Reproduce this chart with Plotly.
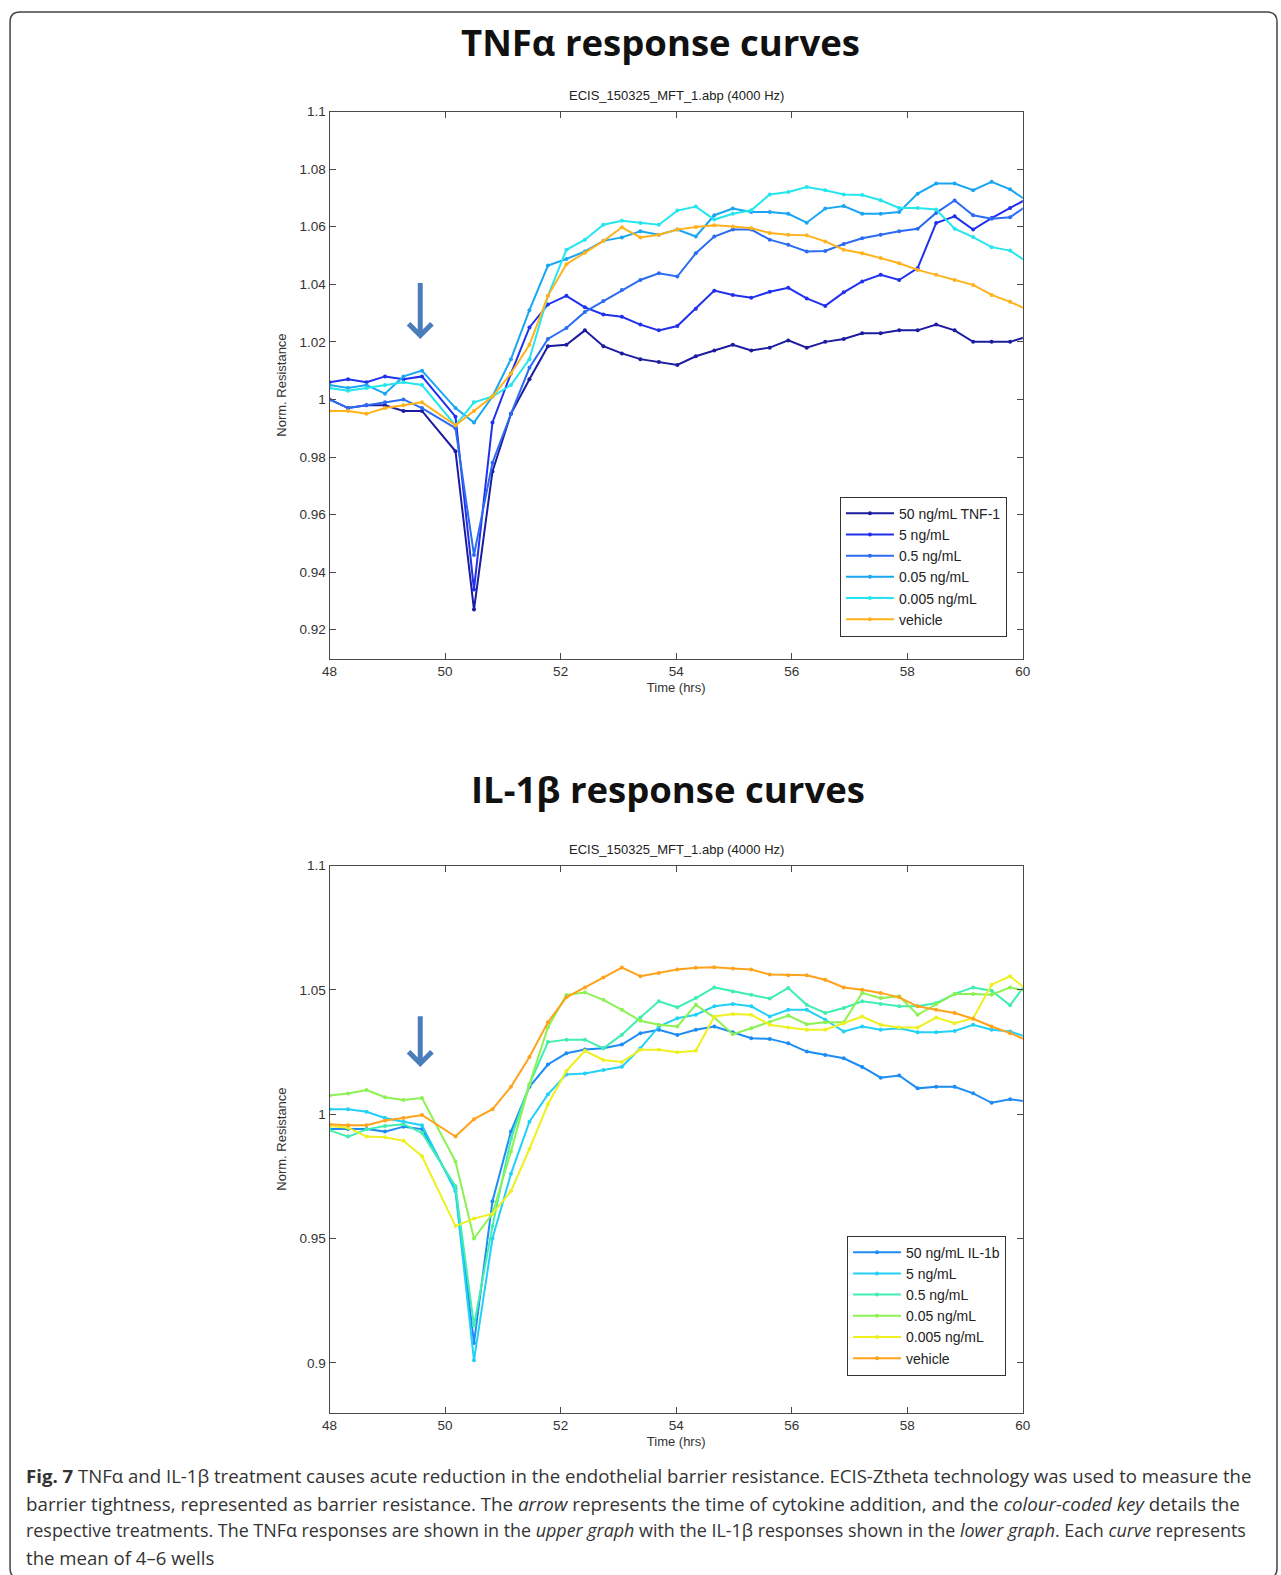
import plotly.graph_objects as go

# ---------------- data ----------------
TIME_H = [48.0, 48.32, 48.64, 48.96, 49.28, 49.6,
          50.18, 50.5, 50.82, 51.14, 51.46, 51.78, 52.10, 52.42, 52.74, 53.06,
          53.38, 53.70, 54.02, 54.34, 54.66, 54.98, 55.30, 55.62, 55.94, 56.26,
          56.58, 56.90, 57.22, 57.54, 57.86, 58.18, 58.50, 58.82, 59.14, 59.46,
          59.78, 60.10]

TNF_NAMES = ["50 ng/mL TNF-1", "5 ng/mL", "0.5 ng/mL", "0.05 ng/mL", "0.005 ng/mL", "vehicle"]
TNF_50 = [1.000, 0.997, 0.998, 0.998, 0.996, 0.996,
          0.982, 0.927, 0.975, 0.995, 1.007, 1.0185, 1.019, 1.024, 1.0185, 1.016,
          1.014, 1.013, 1.012, 1.015, 1.017, 1.019, 1.017, 1.018, 1.0205, 1.018,
          1.020, 1.021, 1.023, 1.023, 1.024, 1.024, 1.026, 1.024, 1.020, 1.020,
          1.020, 1.022]
TNF_5 = [1.006, 1.007, 1.006, 1.008, 1.007, 1.008,
         0.994, 0.934, 0.992, 1.009, 1.025, 1.033, 1.036, 1.032, 1.0295, 1.0287,
         1.026, 1.024, 1.0255, 1.0315, 1.0378, 1.0363, 1.0353, 1.0374, 1.0388, 1.0351,
         1.0325, 1.0372, 1.041, 1.0433, 1.0415, 1.0456, 1.0613, 1.0636, 1.059, 1.063,
         1.0665, 1.070]
TNF_05 = [1.000, 0.997, 0.998, 0.999, 1.000, 0.997,
          0.990, 0.946, 0.978, 0.995, 1.011, 1.021, 1.0248, 1.0304, 1.0342, 1.038,
          1.0415, 1.0438, 1.0427, 1.0508, 1.0566, 1.059, 1.059, 1.0555, 1.0537, 1.0514,
          1.0516, 1.054, 1.056, 1.0572, 1.0584, 1.0593, 1.0648, 1.0691, 1.064, 1.0628,
          1.0633, 1.0677]
TNF_005 = [1.005, 1.004, 1.005, 1.002, 1.008, 1.010,
           0.997, 0.992, 1.001, 1.014, 1.031, 1.0465, 1.0488, 1.0514, 1.0551, 1.0563,
           1.0584, 1.0572, 1.059, 1.0566, 1.064, 1.0663, 1.0651, 1.0651, 1.0645, 1.0614,
           1.0663, 1.0672, 1.0645, 1.0645, 1.0651, 1.0715, 1.075, 1.075, 1.0727, 1.0756,
           1.073, 1.0686]
TNF_0005 = [1.004, 1.003, 1.004, 1.005, 1.006, 1.005,
            0.991, 0.999, 1.001, 1.005, 1.014, 1.036, 1.052, 1.0555, 1.0607, 1.0621,
            1.0613, 1.0607, 1.0656, 1.067, 1.0625, 1.0645, 1.0657, 1.0712, 1.0721, 1.0738,
            1.0727, 1.0712, 1.071, 1.0692, 1.0665, 1.0665, 1.066, 1.0593, 1.0564, 1.0529,
            1.0517, 1.0474]
TNF_VEH = [0.996, 0.996, 0.995, 0.997, 0.998, 0.999,
           0.991, 0.996, 1.001, 1.009, 1.019, 1.036, 1.047, 1.051, 1.055, 1.0598,
           1.0563, 1.0572, 1.059, 1.0599, 1.0605, 1.0601, 1.0595, 1.0578, 1.0572, 1.057,
           1.0549, 1.052, 1.0508, 1.0491, 1.0473, 1.045, 1.0433, 1.0415, 1.0398, 1.0363,
           1.0339, 1.031]

IL_NAMES = ["50 ng/mL IL-1b", "5 ng/mL", "0.5 ng/mL", "0.05 ng/mL", "0.005 ng/mL", "vehicle"]
IL_50 = [0.994, 0.994, 0.994, 0.993, 0.995, 0.994,
         0.970, 0.908, 0.965, 0.993, 1.011, 1.020, 1.0245, 1.026, 1.0265, 1.028,
         1.0326, 1.034, 1.0319, 1.034, 1.0353, 1.033, 1.0306, 1.0303, 1.0285, 1.0252,
         1.0238, 1.0225, 1.019, 1.0147, 1.0156, 1.0104, 1.011, 1.011, 1.0084, 1.0046,
         1.006, 1.005]
IL_5 = [1.002, 1.002, 1.001, 0.9985, 0.997, 0.9956,
        0.969, 0.901, 0.950, 0.976, 0.997, 1.008, 1.016, 1.0164, 1.0178, 1.0191,
        1.0265, 1.0353, 1.0386, 1.04, 1.0434, 1.0443, 1.0434, 1.0393, 1.042, 1.042,
        1.038, 1.0333, 1.0353, 1.034, 1.0346, 1.033, 1.033, 1.0335, 1.036, 1.034,
        1.0333, 1.0308]
IL_05 = [0.9936, 0.991, 0.9939, 0.9953, 0.996, 0.9925,
         0.971, 0.915, 0.955, 0.990, 1.012, 1.029, 1.030, 1.030, 1.0265, 1.032,
         1.0389, 1.0454, 1.043, 1.0467, 1.051, 1.0494, 1.0481, 1.0465, 1.0508, 1.044,
         1.0407, 1.0427, 1.0454, 1.0443, 1.0434, 1.0434, 1.0447, 1.0484, 1.051, 1.0497,
         1.0438, 1.054]
IL_005 = [1.0075, 1.0083, 1.0097, 1.0068, 1.0057, 1.0065,
          0.981, 0.950, 0.960, 0.985, 1.012, 1.035, 1.048, 1.049, 1.046, 1.042,
          1.0376, 1.036, 1.0353, 1.044, 1.0389, 1.0322, 1.0346, 1.037, 1.0397, 1.0362,
          1.037, 1.037, 1.0488, 1.0467, 1.0474, 1.04, 1.0443, 1.0484, 1.0484, 1.0481,
          1.051, 1.0494]
IL_0005 = [0.9953, 0.9946, 0.991, 0.9907, 0.9893, 0.9831,
           0.955, 0.958, 0.960, 0.969, 0.986, 1.004, 1.0174, 1.0255, 1.0218, 1.021,
           1.0259, 1.0259, 1.0249, 1.0255, 1.0393, 1.0403, 1.04, 1.036, 1.0349, 1.034,
           1.034, 1.0366, 1.0393, 1.036, 1.0349, 1.0349, 1.0389, 1.0366, 1.0386, 1.0521,
           1.0555, 1.0494]
IL_VEH = [0.996, 0.9956, 0.9956, 0.9975, 0.9985, 0.9997,
          0.991, 0.998, 1.002, 1.011, 1.023, 1.037, 1.047, 1.051, 1.055, 1.059,
          1.0555, 1.0568, 1.0582, 1.0589, 1.0591, 1.0586, 1.0582, 1.0562, 1.0559, 1.0559,
          1.0541, 1.051, 1.0501, 1.0488, 1.047, 1.0434, 1.042, 1.0407, 1.0384, 1.0353,
          1.0326, 1.0295]

X_TICKS = [48, 50, 52, 54, 56, 58, 60]
X_TICK_TEXT = ["48", "50", "52", "54", "56", "58", "60"]
TOP_Y_TICKS = [0.92, 0.94, 0.96, 0.98, 1.0, 1.02, 1.04, 1.06, 1.08, 1.1]
TOP_Y_TEXT = ["0.92", "0.94", "0.96", "0.98", "1", "1.02", "1.04", "1.06", "1.08", "1.1"]
BOT_Y_TICKS = [0.9, 0.95, 1.0, 1.05, 1.1]
BOT_Y_TEXT = ["0.9", "0.95", "1", "1.05", "1.1"]
ADDITION_TIME = 49.57

TNF_SERIES = [TNF_50, TNF_5, TNF_05, TNF_005, TNF_0005, TNF_VEH]
IL_SERIES = [IL_50, IL_5, IL_05, IL_005, IL_0005, IL_VEH]

# ---------------- style ----------------
TNF_COLORS = ["#1c1ca0", "#2030ee", "#2b6cf2", "#1aa6f2", "#25e6ee", "#ffb21c"]
IL_COLORS = ["#1e8cf4", "#22d0f8", "#40eeb0", "#8cf254", "#eef020", "#ffa31c"]

W, H = 1281, 1575
# page-position -> paper-fraction (calibrated against the rendered page)
def PX(p):
    return (p / 0.9953 - 8.0) / 1265.0
def PY(p):
    return 1 - (p / 0.9953 - 7.0) / 1567.0

X_DOM = [PX(328), PX(1018)]
TOP_DOM = [PY(655), PY(111)]
BOT_DOM = [PY(1405), PY(861)]

TICK_FONT = dict(family="Liberation Sans, Arial, sans-serif", size=13.5, color="#333333")
TITLE_AX_FONT = dict(family="Liberation Sans, Arial, sans-serif", size=13, color="#333333")
AX_COLOR = "#4a4a4a"

fig = go.Figure()

for name, vals, col in zip(TNF_NAMES, TNF_SERIES, TNF_COLORS):
    fig.add_trace(go.Scatter(x=TIME_H, y=vals, name=name, mode="lines+markers",
                             line=dict(color=col, width=2), marker=dict(size=4, color=col),
                             xaxis="x", yaxis="y", legend="legend"))
for name, vals, col in zip(IL_NAMES, IL_SERIES, IL_COLORS):
    fig.add_trace(go.Scatter(x=TIME_H, y=vals, name=name, mode="lines+markers",
                             line=dict(color=col, width=2), marker=dict(size=4, color=col),
                             xaxis="x2", yaxis="y2", legend="legend2"))

def xaxis_cfg(anchor):
    return dict(domain=X_DOM, anchor=anchor, range=[48, 60], tickvals=X_TICKS,
                ticktext=X_TICK_TEXT, ticks="inside", ticklen=6, tickcolor=AX_COLOR,
                showline=True, linecolor=AX_COLOR, linewidth=1, mirror="ticks",
                showgrid=False, zeroline=False, tickfont=TICK_FONT,
                title=dict(text="Time (hrs)", font=TITLE_AX_FONT, standoff=5))

def yaxis_cfg(anchor, dom, rng, tv, tt):
    return dict(domain=dom, anchor=anchor, range=rng, tickvals=tv, ticktext=tt,
                ticks="inside", ticklen=6, tickcolor=AX_COLOR, showline=True,
                linecolor=AX_COLOR, linewidth=1, mirror="ticks", showgrid=False,
                zeroline=False, tickfont=TICK_FONT,
                title=dict(text="Norm. Resistance", font=TITLE_AX_FONT, standoff=10))

LEG_FONT = dict(family="Liberation Sans, Arial, sans-serif", size=14, color="#222222")

fig.update_layout(
    width=W, height=H, margin=dict(l=0, r=0, t=0, b=0), autosize=False,
    paper_bgcolor="white", plot_bgcolor="white",
    xaxis=xaxis_cfg("y"),
    yaxis=yaxis_cfg("x", TOP_DOM, [0.91, 1.1], TOP_Y_TICKS, TOP_Y_TEXT),
    xaxis2=xaxis_cfg("y2"),
    yaxis2=yaxis_cfg("x2", BOT_DOM, [0.88, 1.1], BOT_Y_TICKS, BOT_Y_TEXT),
    legend=dict(x=PX(836), y=PY(494), xanchor="left", yanchor="top",
                bgcolor="white", bordercolor="#333333", borderwidth=1,
                font=LEG_FONT, tracegroupgap=0, itemwidth=48),
    legend2=dict(x=PX(843), y=PY(1229), xanchor="left", yanchor="top",
                 bgcolor="white", bordercolor="#333333", borderwidth=1,
                 font=LEG_FONT, tracegroupgap=0, itemwidth=48),
    showlegend=True,
)

ann = []
TITLE_FONT = dict(family="Open Sans, Noto Sans, sans-serif", size=36.5, color="#111111", weight=700)
ann.append(dict(text="TNFα response curves", x=PX(657), y=PY(42), xref="paper", yref="paper",
                showarrow=False, xanchor="center", yanchor="middle", font=TITLE_FONT))
ann.append(dict(text="IL-1β response curves", x=PX(665), y=PY(785), xref="paper", yref="paper",
                showarrow=False, xanchor="center", yanchor="middle", font=TITLE_FONT))
SUB_FONT = dict(family="Liberation Sans, Arial, sans-serif", size=13, color="#222222")
for yy in (95, 845):
    ann.append(dict(text="ECIS_150325_MFT_1.abp (4000 Hz)", x=PX(673), y=PY(yy), xref="paper",
                    yref="paper", showarrow=False, xanchor="center", yanchor="middle", font=SUB_FONT))

ARROW_COL = "#4a7ebb"
ann.append(dict(x=ADDITION_TIME, y=1.021, ax=ADDITION_TIME, ay=1.041, xref="x", yref="y",
                axref="x", ayref="y", showarrow=True, arrowhead=4, arrowsize=0.9,
                arrowwidth=5, arrowcolor=ARROW_COL, text=""))
ann.append(dict(x=ADDITION_TIME, y=1.019, ax=ADDITION_TIME, ay=1.040, xref="x2", yref="y2",
                axref="x2", ayref="y2", showarrow=True, arrowhead=4, arrowsize=0.9,
                arrowwidth=5, arrowcolor=ARROW_COL, text=""))

CAPTION = [
    "<b>Fig. 7</b> TNFα and IL-1β treatment causes acute reduction in the endothelial barrier resistance. ECIS-Ztheta technology was used to measure the",
    "barrier tightness, represented as barrier resistance. The <i>arrow</i> represents the time of cytokine addition, and the <i>colour-coded key</i> details the",
    "respective treatments. The TNFα responses are shown in the <i>upper graph</i> with the IL-1β responses shown in the <i>lower graph</i>. Each <i>curve</i> represents",
    "the mean of 4–6 wells",
]
CAP_SIZES = [18.6, 18.75, 17.9, 18.6]
for i, (line, fs) in enumerate(zip(CAPTION, CAP_SIZES)):
    ann.append(dict(text=line, x=PX(24), y=PY(1468 + 27 * i), xref="paper", yref="paper",
                    showarrow=False, xanchor="left", yanchor="middle", align="left",
                    font=dict(family="Open Sans, Noto Sans, sans-serif", size=fs, color="#333333")))
fig.update_layout(annotations=ann)

# rounded frame
xl, xr, yt, yb = PX(10), PX(1271), PY(12), PY(1570)
rx, ry = 10 / W, 10 / H
path = (f"M {xl+rx},{yt} L {xr-rx},{yt} Q {xr},{yt} {xr},{yt-ry} L {xr},{yb+ry} "
        f"Q {xr},{yb} {xr-rx},{yb} L {xl+rx},{yb} Q {xl},{yb} {xl},{yb+ry} "
        f"L {xl},{yt-ry} Q {xl},{yt} {xl+rx},{yt} Z")
fig.add_shape(type="path", path=path, xref="paper", yref="paper",
              line=dict(color="#444444", width=1.5), layer="below")

POST = ("document.body.style.margin='0';document.body.style.padding='0';"
        "document.body.style.overflow='hidden';"
        "var gd=document.getElementById('{plot_id}');"
        "Plotly.relayout(gd,{width:1281,height:1575});")
fig.write_html("out.html", config={"displayModeBar": False, "responsive": False},
               post_script=POST)
